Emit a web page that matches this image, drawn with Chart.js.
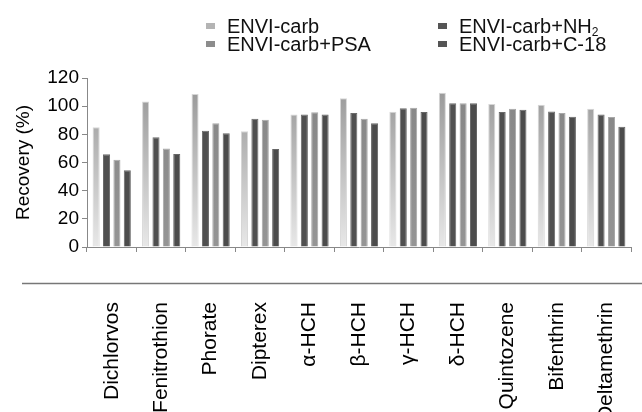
<!DOCTYPE html>
<html>
<head>
<meta charset="utf-8">
<script src="https://cdn.jsdelivr.net/npm/chart.js@4.4.1/dist/chart.umd.min.js"></script>
<style>
    html, body { margin: 0; padding: 0; background: #fff; }
    #wrap { position: relative; width: 642px; height: 412px; overflow: hidden; }
    #legend { position: absolute; left: 0; top: 0; font-family: 'Liberation Sans', Arial, sans-serif; font-size: 20px; color: #111; }
    .item { position: absolute; white-space: nowrap; line-height: 19px; }
    .box { display: inline-block; width: 9px; height: 6px; margin-right: 12px; vertical-align: middle; position: relative; top: -2px; }
    sub { font-size: 12px; vertical-align: -3px; line-height: 0; }
</style>
</head>
<body>
<div id="wrap">
    <canvas id="myChart" width="642" height="412"></canvas>
    <div id="legend"></div>
</div>
<script>
// categories and recovery values (%)
const pesticides = ['Dichlorvos', 'Fenitrothion', 'Phorate', 'Dipterex', 'α-HCH', 'β-HCH',
    'γ-HCH', 'δ-HCH', 'Quintozene', 'Bifenthrin', 'Deltamethrin'];
const seriesNames = ['ENVI-carb', 'ENVI-carb+NH<sub>2</sub>', 'ENVI-carb+PSA', 'ENVI-carb+C-18'];
const envicarb = [85, 103.4, 108.6, 82.2, 94, 105.6, 96.1, 109.6, 101.5, 101, 98.2];
const envicarbNH2 = [65.8, 78, 82.6, 91.1, 94, 95.2, 98.5, 102, 95.9, 96.3, 94];
const envicarbPSA = [62, 70, 87.8, 90.4, 95.6, 91.1, 98.9, 102, 98.2, 95.2, 92.3];
const envicarbC18 = [54.5, 66, 80.7, 69.6, 94, 87.8, 95.9, 102, 97.5, 92.5, 85.4];
const yTicks = [0, 20, 40, 60, 80, 100, 120];

const legendColors = ['#b4b4b4', '#555555', '#8c8c8c', '#555555'];

// vertical gradient, dark at top and light at the axis
function gradientFill(top, bottom) {
    return function (context) {
        const area = context.chart.chartArea;
        if (!area) return top;
        const g = context.chart.ctx.createLinearGradient(0, area.top, 0, area.bottom);
        g.addColorStop(0, top);
        g.addColorStop(1, bottom);
        return g;
    };
}

const data = {
    labels: pesticides,
    datasets: [{
        label: 'ENVI-carb',
        data: envicarb,
        backgroundColor: gradientFill('#939393', '#e8e8e8'),
        borderColor: '#d6d6d6',
        borderWidth: 1
    }, {
        label: 'ENVI-carb+NH2',
        data: envicarbNH2,
        backgroundColor: '#505050',
        borderColor: '#6a6a6a',
        borderWidth: 1
    }, {
        label: 'ENVI-carb+PSA',
        data: envicarbPSA,
        backgroundColor: gradientFill('#858585', '#959595'),
        borderColor: '#a8a8a8',
        borderWidth: 1
    }, {
        label: 'ENVI-carb+C-18',
        data: envicarbC18,
        backgroundColor: '#4c4c4c',
        borderColor: '#666666',
        borderWidth: 1
    }]
};

// the separate rule above the rotated names
const rulePlugin = {
    id: 'rule',
    afterDraw(chart) {
        const s = chart.scales.x2;
        const ctx = chart.ctx;
        ctx.save();
        ctx.strokeStyle = '#777777';
        ctx.lineWidth = 1.5;
        ctx.beginPath();
        ctx.moveTo(22, s.top + 0.5);
        ctx.lineTo(chart.width, s.top + 0.5);
        ctx.stroke();
        ctx.restore();
    }
};

const config = {
    type: 'bar',
    data: data,
    options: {
        responsive: false,
        animation: false,
        layout: { padding: { top: 78, right: 11, left: 0, bottom: 0 } },
        datasets: { bar: { categoryPercentage: 0.84, barPercentage: 0.68 } },
        scales: {
            x: {
                type: 'category',
                position: 'bottom',
                grid: { offset: true, drawOnChartArea: false, tickLength: 5, color: '#888888' },
                border: { color: '#888888', width: 1 },
                ticks: { display: false },
                afterFit(scale) { scale.height = 36; scale.paddingLeft = 0; scale.paddingRight = 0; }
            },
            x2: {
                type: 'category',
                position: 'bottom',
                weight: 1,
                offset: true,
                grid: { display: false },
                border: { display: false },
                ticks: {
                    autoSkip: false,
                    minRotation: 90,
                    maxRotation: 90,
                    padding: 11,
                    color: '#000',
                    font: { family: "'Liberation Sans', Arial, sans-serif", size: 21 }
                },
                afterFit(scale) { scale.height = 129; scale.paddingLeft = 0; scale.paddingRight = 0; }
            },
            y: {
                min: 0,
                max: 120,
                afterBuildTicks(scale) { scale.ticks = yTicks.map(v => ({ value: v })); },
                grid: { drawOnChartArea: false, tickLength: 5, color: '#888888' },
                border: { color: '#888888', width: 1 },
                ticks: {
                    padding: 3,
                    color: '#000',
                    font: { family: "'Liberation Sans', Arial, sans-serif", size: 19 }
                },
                title: {
                    display: true,
                    text: 'Recovery (%)',
                    color: '#000',
                    padding: { top: 12, bottom: 0 },
                    font: { family: "'Liberation Sans', Arial, sans-serif", size: 19 }
                },
                afterFit(scale) { scale.width = 87; scale.paddingTop = 0; scale.paddingBottom = 0; }
            }
        },
        plugins: {
            legend: { display: false },
            tooltip: { enabled: false }
        }
    },
    plugins: [rulePlugin]
};

const myChart = new Chart(document.getElementById('myChart'), config);

// legend in two columns, column-wise: ENVI-carb / PSA then NH2 / C-18
const legendPos = [[206, 17], [438, 17], [206, 35], [438, 35]];
const legendBox = document.getElementById('legend');
seriesNames.forEach((name, i) => {
    const el = document.createElement('div');
    el.className = 'item';
    el.style.left = legendPos[i][0] + 'px';
    el.style.top = legendPos[i][1] + 'px';
    el.innerHTML = '<span class="box" style="background:' + legendColors[i] + '"></span>' + name;
    legendBox.appendChild(el);
});
</script>
</body>
</html>
